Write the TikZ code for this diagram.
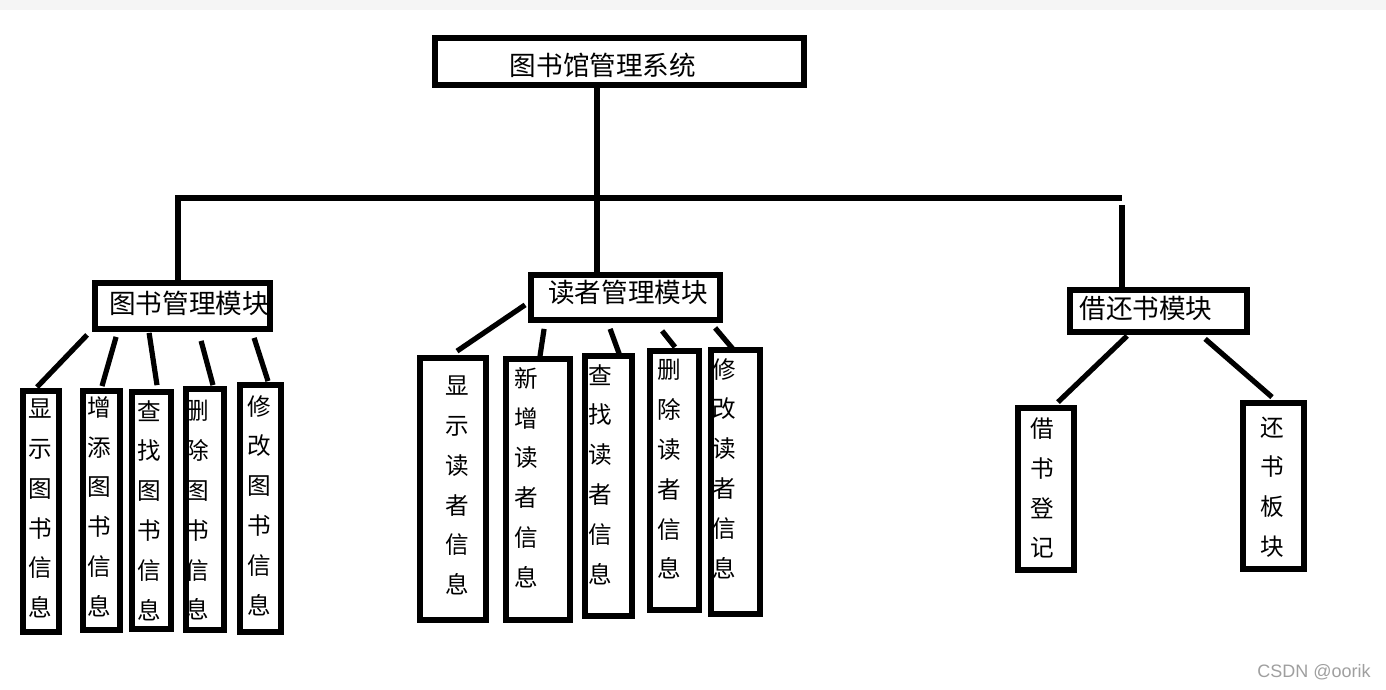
\documentclass[tikz,border=0pt]{standalone}
\usepackage{fontspec}
\setmainfont{Noto Sans CJK SC}
\newfontfamily\wmfont{Liberation Sans}
\usetikzlibrary{fit,calc}
\begin{document}
\begin{tikzpicture}[x=0.5pt,y=-0.5pt,
  bx/.style={draw, line width=2.9pt, inner sep=0pt},
  ln/.style={line width=2.6pt},
  mt/.style={font=\fontsize{13.3}{16}\selectfont, inner sep=0pt},
  vt/.style={font=\fontsize{11.8}{19.9}\selectfont, align=center, inner sep=0pt}]
\useasboundingbox (0,0) rectangle (1386,690);
\fill[gray!8] (0,0) rectangle (1386,10);

% top
\node[bx, fit={(435,38)(804,85)}] (top) {};
\node[mt] (topt) at (603,65) {图书馆管理系统};

% modules
\node[bx, fit={(95,283)(270,329)}] (bm) {};
\node[mt] (bmt) at (189,303) {图书管理模块};
\node[bx, fit={(531,275)(720,320)}] (rm) {};
\node[mt] (rmt) at (628,292) {读者管理模块};
\node[bx, fit={(1070,290)(1247,332)}] (bo) {};
\node[mt] (bot) at (1146,308) {借还书模块};

% book leaves
\node[bx, fit={(23,391)(59,632)}] (l1) {};
\node[vt] (l1t) at (40,508.5) {显\\示\\图\\书\\信\\息};
\node[bx, fit={(83,391)(120,630)}] (l2) {};
\node[vt] (l2t) at (99,506.5) {增\\添\\图\\书\\信\\息};
\node[bx, fit={(132,392)(171,629)}] (l3) {};
\node[vt] (l3t) at (149,510.5) {查\\找\\图\\书\\信\\息};
\node[bx, fit={(186,389)(224,630)}] (l4) {};
\node[vt] (l4t) at (197,510.5) {删\\除\\图\\书\\信\\息};
\node[bx, fit={(240,385)(281,632)}] (l5) {};
\node[vt] (l5t) at (259,505.5) {修\\改\\图\\书\\信\\息};

% reader leaves
\node[bx, fit={(420,358)(486,620)}] (r1) {};
\node[vt] (r1t) at (457,485.5) {显\\示\\读\\者\\信\\息};
\node[bx, fit={(506,359)(570,620)}] (r2) {};
\node[vt] (r2t) at (526,477.5) {新\\增\\读\\者\\信\\息};
\node[bx, fit={(585,356)(632,616)}] (r3) {};
\node[vt] (r3t) at (600,474.5) {查\\找\\读\\者\\信\\息};
\node[bx, fit={(650,351)(699,610)}] (r4) {};
\node[vt] (r4t) at (669,469.5) {删\\除\\读\\者\\信\\息};
\node[bx, fit={(711,350)(760,614)}] (r5) {};
\node[vt] (r5t) at (724,468.5) {修\\改\\读\\者\\信\\息};

% borrow leaves
\node[bx, fit={(1018,408)(1074,570)}] (w1) {};
\node[vt] (w1t) at (1042,488) {借\\书\\登\\记};
\node[bx, fit={(1243,403)(1304,569)}] (w2) {};
\node[vt] (w2t) at (1272,487) {还\\书\\板\\块};

% trunk
\coordinate (hl) at (178,198);
\coordinate (hr) at (1122,198);
\coordinate (j) at (597,198);
\draw[ln] (hl |- bm.north) -- (hl) -- (hr);
\draw[ln] (top.south -| j) -- (rm.north -| j);
\draw[ln] ([yshift=-3.5pt]hr) -- (hr |- bo.north);

% book connectors
\draw[ln] ($(bm.south west)+(-5,3)$) -- ($(l1.north)+(-4,-1)$);
\draw[ln] ($(bm.south west)+(24,5)$) -- ($(l2.north)+(0.5,-2)$);
\draw[ln] ($(bm.south west)+(57,1)$) -- ($(l3.north)+(5.5,-4)$);
\draw[ln] ($(bm.south west)+(109,9)$) -- ($(l4.north)+(8,-1)$);
\draw[ln] ($(bm.south west)+(162,6)$) -- ($(l5.north)+(7.5,-1)$);

% reader connectors
\draw[ln] ($(rm.south west)+(-3,-18)$) -- ($(r1.north)+(4,-4)$);
\draw[ln] ($(rm.south west)+(16,6)$) -- ($(r2.north)+(2,0)$);
\draw[ln] ($(rm.south west)+(82,6)$) -- ($(r3.north)+(11.5,3)$);
\draw[ln] ($(rm.south west)+(134,8)$) -- ($(r4.north)+(0.5,-1)$);
\draw[ln] ($(rm.south west)+(187,5)$) -- ($(r5.north)+(-2.5,2)$);

% borrow connectors
\draw[ln] ($(bo.south west)+(60,1)$) -- ($(w1.north)+(12,-3)$);
\draw[ln] ($(bo.south west)+(138,4)$) -- ($(w2.north)+(-1.5,-3)$);

% watermark
\node[font=\wmfont\fontsize{9}{10}\selectfont, text=gray!75, inner sep=0pt] (wmk) at (1314,672) {CSDN @oorik};
\end{tikzpicture}
\end{document}
